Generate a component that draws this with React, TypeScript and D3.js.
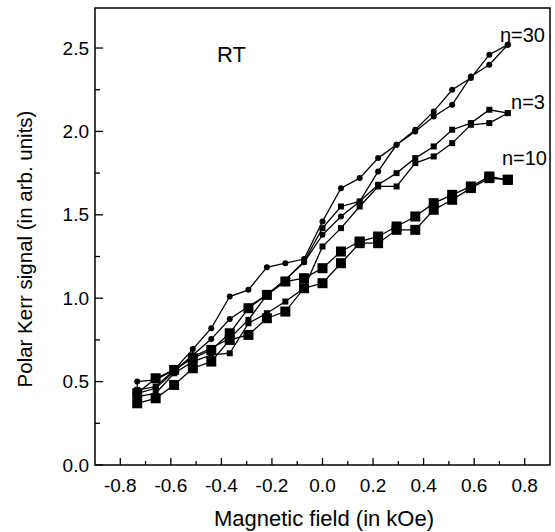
import React, { useEffect, useRef } from 'react';
import * as d3 from 'd3';

// field steps (kOe) shared by every branch
const fieldSteps = [-0.733, -0.66, -0.587, -0.513, -0.44, -0.367, -0.293, -0.22, -0.147, -0.073, 0, 0.073, 0.147, 0.22, 0.293, 0.367, 0.44, 0.513, 0.587, 0.66, 0.733];

// n=30 loop (circles)
const n30Ascending = [0.43, 0.46, 0.56, 0.66, 0.755, 0.875, 0.95, 1.02, 1.11, 1.215, 1.38, 1.49, 1.58, 1.76, 1.92, 2.0, 2.09, 2.16, 2.33, 2.4, 2.52];
const n30Descending = [0.5, 0.51, 0.57, 0.695, 0.82, 1.01, 1.05, 1.185, 1.21, 1.235, 1.46, 1.66, 1.72, 1.84, 1.92, 2.01, 2.12, 2.25, 2.32, 2.46, 2.52];

// n=3 loop (small squares)
const n3Ascending = [0.41, 0.43, 0.55, 0.62, 0.66, 0.67, 0.85, 0.91, 0.98, 1.06, 1.31, 1.42, 1.55, 1.67, 1.67, 1.81, 1.85, 1.93, 2.04, 2.05, 2.11];
const n3Descending = [0.45, 0.47, 0.57, 0.65, 0.7, 0.76, 0.87, 1.02, 1.11, 1.22, 1.42, 1.55, 1.58, 1.68, 1.75, 1.84, 1.91, 2.01, 2.05, 2.13, 2.11];

// n=10 loop (large squares)
const n10Ascending = [0.37, 0.4, 0.48, 0.58, 0.62, 0.75, 0.78, 0.88, 0.92, 1.06, 1.09, 1.21, 1.33, 1.33, 1.41, 1.41, 1.53, 1.59, 1.66, 1.72, 1.71];
const n10Descending = [0.43, 0.52, 0.57, 0.64, 0.69, 0.79, 0.94, 1.02, 1.1, 1.12, 1.18, 1.28, 1.34, 1.37, 1.43, 1.49, 1.57, 1.62, 1.67, 1.73, 1.71];

const xTicks = [-0.8, -0.6, -0.4, -0.2, 0, 0.2, 0.4, 0.6, 0.8];
const xMinorTicks = [-0.7, -0.5, -0.3, -0.1, 0.1, 0.3, 0.5, 0.7];
const yTicks = [0, 0.5, 1.0, 1.5, 2.0, 2.5];
const yMinorTicks = [0.25, 0.75, 1.25, 1.75, 2.25];

const seriesList = [
  { label: 'n=30', marker: 'circle', up: n30Ascending, down: n30Descending, labelPos: [545, 42] },
  { label: 'n=3', marker: 'small', up: n3Ascending, down: n3Descending, labelPos: [545, 109] },
  { label: 'n=10', marker: 'large', up: n10Ascending, down: n10Descending, labelPos: [547, 165] },
];

const FONT = '"Liberation Sans", Arial, Helvetica, sans-serif';

const App = () => {
  const ref = useRef<SVGSVGElement | null>(null);

  useEffect(() => {
    const el = ref.current;
    if (!el) return;
    const svg = d3.select(el);
    svg.selectAll('*').remove();

    const left = 95;
    const right = 550;
    const top = 8;
    const bottom = 465;

    const x = d3.scaleLinear().domain([-0.9, 0.9]).range([left, right]);
    const y = d3.scaleLinear().domain([0, 2.74]).range([bottom, top]);

    // frame
    svg
      .append('rect')
      .attr('x', left)
      .attr('y', top)
      .attr('width', right - left)
      .attr('height', bottom - top)
      .attr('fill', 'none')
      .attr('stroke', '#000')
      .attr('stroke-width', 1.5);

    const g = svg.append('g').attr('stroke', '#000').attr('stroke-width', 1.3);
    xTicks.forEach((t) => g.append('line').attr('x1', x(t)).attr('x2', x(t)).attr('y1', bottom).attr('y2', bottom - 7));
    xMinorTicks.forEach((t) => g.append('line').attr('x1', x(t)).attr('x2', x(t)).attr('y1', bottom).attr('y2', bottom - 4));
    yTicks.forEach((t) => g.append('line').attr('x1', left).attr('x2', left + 8).attr('y1', y(t)).attr('y2', y(t)));
    yMinorTicks.forEach((t) => g.append('line').attr('x1', left).attr('x2', left + 5).attr('y1', y(t)).attr('y2', y(t)));

    svg
      .selectAll('text.xt')
      .data(xTicks)
      .enter()
      .append('text')
      .attr('class', 'xt')
      .attr('x', (d) => x(d))
      .attr('y', 492)
      .attr('text-anchor', 'middle')
      .style('font-family', FONT)
      .style('font-size', '19px')
      .text((d) => d3.format('.1f')(d).replace('−', '-'));

    svg
      .selectAll('text.yt')
      .data(yTicks)
      .enter()
      .append('text')
      .attr('class', 'yt')
      .attr('x', 89)
      .attr('y', (d) => y(d))
      .attr('dy', '0.35em')
      .attr('text-anchor', 'end')
      .style('font-family', FONT)
      .style('font-size', '19px')
      .text((d) => d3.format('.1f')(d));

    svg
      .append('text')
      .attr('x', 324)
      .attr('y', 526)
      .attr('text-anchor', 'middle')
      .style('font-family', FONT)
      .style('font-size', '22px')
      .text('Magnetic field (in kOe)');

    svg
      .append('text')
      .attr('transform', `translate(32, ${249}) rotate(-90)`)
      .attr('text-anchor', 'middle')
      .style('font-family', FONT)
      .style('font-size', '20.5px')
      .text('Polar Kerr signal (in arb. units)');

    svg
      .append('text')
      .attr('x', 217)
      .attr('y', 62)
      .style('font-family', FONT)
      .style('font-size', '22px')
      .text('RT');

    const line = d3
      .line<[number, number]>()
      .x((d) => x(d[0]))
      .y((d) => y(d[1]));

    seriesList.forEach((s) => {
      const upPts: [number, number][] = fieldSteps.map((f, i) => [f, s.up[i]]);
      const downPts: [number, number][] = fieldSteps.map((f, i) => [f, s.down[i]]);
      const loop = [...upPts, ...downPts.slice().reverse()];

      svg
        .append('path')
        .attr('d', line(loop) + 'Z')
        .attr('fill', 'none')
        .attr('stroke', '#000')
        .attr('stroke-width', 1.3);

      const pts = [...upPts, ...downPts];
      if (s.marker === 'circle') {
        svg
          .append('g')
          .selectAll('circle')
          .data(pts)
          .enter()
          .append('circle')
          .attr('cx', (d) => x(d[0]))
          .attr('cy', (d) => y(d[1]))
          .attr('r', 3)
          .attr('fill', '#000');
      } else {
        const size = s.marker === 'small' ? 6 : 10;
        svg
          .append('g')
          .selectAll('rect')
          .data(pts)
          .enter()
          .append('rect')
          .attr('x', (d) => x(d[0]) - size / 2)
          .attr('y', (d) => y(d[1]) - size / 2)
          .attr('width', size)
          .attr('height', size)
          .attr('fill', '#000');
      }

      svg
        .append('text')
        .attr('x', s.labelPos[0])
        .attr('y', s.labelPos[1])
        .attr('text-anchor', 'end')
        .style('font-family', FONT)
        .style('font-size', '20px')
        .text(s.label);
    });
  }, []);

  return (
    <div style={{ position: 'absolute', left: 0, top: 0 }}>
      <svg ref={ref} width={555} height={532} style={{ display: 'block', background: '#fff' }} />
    </div>
  );
};

export default App;
